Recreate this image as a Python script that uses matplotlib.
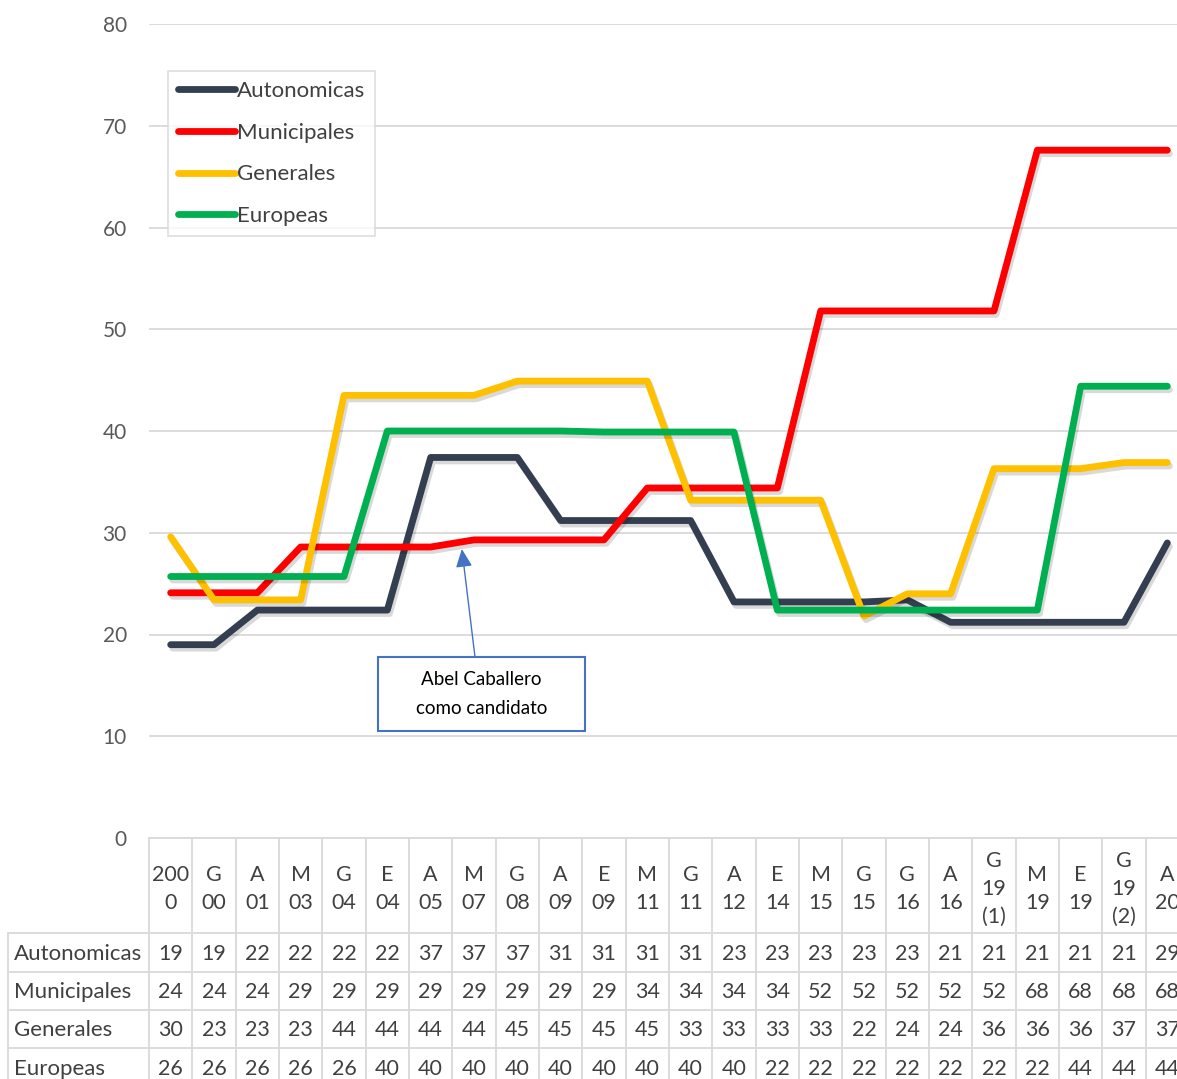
import matplotlib
matplotlib.use("Agg")
import matplotlib.pyplot as plt
import matplotlib.patheffects as pe
from matplotlib.patches import Rectangle

plt.rcParams['font.family'] = ['Lato', 'DejaVu Sans']

# categories (header text as wrapped in the data table)
categories = ["200\n0", "G\n00", "A\n01", "M\n03", "G\n04", "E\n04", "A\n05", "M\n07",
              "G\n08", "A\n09", "E\n09", "M\n11", "G\n11", "A\n12", "E\n14", "M\n15",
              "G\n15", "G\n16", "A\n16", "G\n19\n(1)", "M\n19", "E\n19", "G\n19\n(2)", "A\n20"]

autonomicas = [19.0, 19.0, 22.4, 22.4, 22.4, 22.4, 37.4, 37.4, 37.4, 31.2, 31.2, 31.2,
               31.2, 23.2, 23.2, 23.2, 23.2, 23.4, 21.2, 21.2, 21.2, 21.2, 21.2, 29.0]
municipales = [24.1, 24.1, 24.1, 28.6, 28.6, 28.6, 28.6, 29.3, 29.3, 29.3, 29.3, 34.4,
               34.4, 34.4, 34.4, 51.8, 51.8, 51.8, 51.8, 51.8, 67.6, 67.6, 67.6, 67.6]
generales = [29.6, 23.4, 23.4, 23.4, 43.5, 43.5, 43.5, 43.5, 44.9, 44.9, 44.9, 44.9,
             33.2, 33.2, 33.2, 33.2, 21.8, 24.0, 24.0, 36.3, 36.3, 36.3, 36.9, 36.9]
europeas = [25.7, 25.7, 25.7, 25.7, 25.7, 40.0, 40.0, 40.0, 40.0, 40.0, 39.9, 39.9,
            39.9, 39.9, 22.4, 22.4, 22.4, 22.4, 22.4, 22.4, 22.4, 44.4, 44.4, 44.4]

series_names = ["Autonomicas", "Municipales", "Generales", "Europeas"]
series_colors = ["#333F50", "#FF0000", "#FFC000", "#00B050"]
series = [autonomicas, municipales, generales, europeas]

W, H = 1177, 1079
fig = plt.figure(figsize=(W / 100, H / 100), dpi=100)

# plot area in pixels (right edge runs past the picture, as in the original)
left_px, right_px, top_px, bot_px = 149, 1189, 24, 838
col_w = (right_px - left_px) / len(categories)

ax = fig.add_axes([left_px / W, 1 - bot_px / H, (right_px - left_px) / W, (bot_px - top_px) / H])
ax.set_xlim(-0.5, len(categories) - 0.5)
ax.set_ylim(0, 80)
ax.set_yticks(range(0, 81, 10))
ax.set_xticks([])
for s in ax.spines.values():
    s.set_visible(False)
ax.yaxis.grid(True, color="#D9D9D9", linewidth=1.3)
ax.set_axisbelow(True)
ax.tick_params(axis='y', length=0, pad=16, labelsize=15, labelcolor="#595959")

x = list(range(len(categories)))
for name, col, vals in zip(series_names, series_colors, series):
    ax.plot(x, vals, color=col, lw=4.9, label=name, solid_capstyle='round',
            solid_joinstyle='round',
            path_effects=[pe.SimpleLineShadow(offset=(1.5, -2.5), alpha=0.15), pe.Normal()])

leg = ax.legend(loc='upper left', bbox_to_anchor=(0.018, 0.942), borderaxespad=0,
                fontsize=16, frameon=True, fancybox=False, handlelength=2.6,
                handletextpad=0.05, labelspacing=0.97, borderpad=0.45)
leg.get_frame().set_edgecolor("#D9D9D9")
leg.get_frame().set_linewidth(1.3)
for t in leg.get_texts():
    t.set_color("#404040")
for h in leg.legend_handles:
    h.set_path_effects([])

# annotation box with arrow
bx0 = (378 - left_px) / col_w - 0.5
bx1 = (585 - left_px) / col_w - 0.5
by0 = (bot_px - 731) / 10.175
by1 = (bot_px - 657) / 10.175
ax.add_patch(Rectangle((bx0, by0), bx1 - bx0, by1 - by0, fc='white', ec='#4472C4', lw=1.5, zorder=5))
ax.text((bx0 + bx1) / 2, (by0 + by1) / 2, "Abel Caballero\ncomo candidato", ha='center',
        va='center', fontsize=13.5, color='black', linespacing=1.85, zorder=6)
ax.annotate('', xy=(6.72, 28.4), xytext=((475 - left_px) / col_w - 0.5, by1),
            arrowprops=dict(arrowstyle='-|>,head_length=0.55,head_width=0.25',
                            color='#4472C4', lw=1, mutation_scale=20, shrinkA=0, shrinkB=0),
            zorder=6)

# data table below the plot
lab_px = 8
tab = fig.add_axes([lab_px / W, 0, (right_px - lab_px) / W, 1 - bot_px / H])
x_lab = -0.5 - (left_px - lab_px) / col_w
tab.set_xlim(x_lab, len(categories) - 0.5)
tab.set_ylim(H, bot_px)
tab.axis('off')

gc = "#D9D9D9"
row_edges = [838, 933, 972, 1010, 1048, 1087]
tab.plot([-0.5, len(categories) - 0.5], [row_edges[0]] * 2, color=gc, lw=1.3, clip_on=False)
for yy in row_edges[1:]:
    tab.plot([x_lab, len(categories) - 0.5], [yy, yy], color=gc, lw=1.3, clip_on=False)
for k in range(len(categories) + 1):
    tab.plot([k - 0.5, k - 0.5], [row_edges[0], row_edges[-1]], color=gc, lw=1.3, clip_on=False)
tab.plot([x_lab, x_lab], [row_edges[1], row_edges[-1]], color=gc, lw=1.3, clip_on=False)

txt_col = "#404040"
for i, c in enumerate(categories):
    tab.text(i, (row_edges[0] + row_edges[1]) / 2 + 3.5, c, ha='center', va='center',
             fontsize=15.5, color=txt_col, linespacing=1.5)
for r, (name, vals) in enumerate(zip(series_names, series)):
    yc = (row_edges[r + 1] + row_edges[r + 2]) / 2 + 1.5
    tab.text(x_lab + 0.14, yc, name, ha='left', va='center', fontsize=16, color=txt_col)
    for i, v in enumerate(vals):
        tab.text(i, yc, f"{v:.0f}", ha='center', va='center', fontsize=15.5, color=txt_col)

fig.savefig("out.png", dpi=100)
